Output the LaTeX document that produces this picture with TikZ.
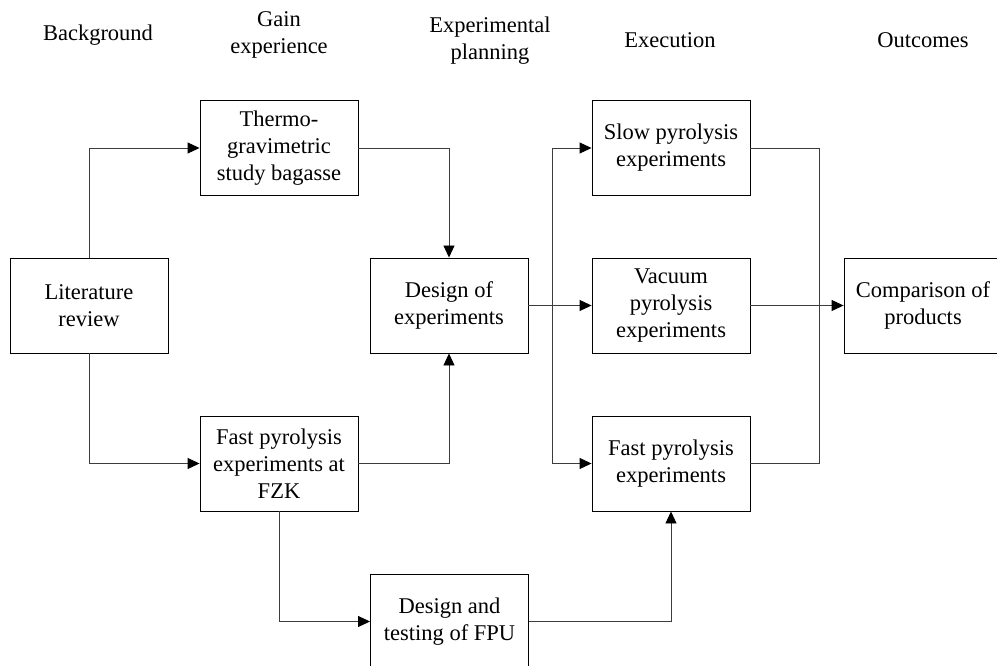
\documentclass[tikz,border=0pt]{standalone}
\usepackage{fontspec}
\setmainfont{Liberation Serif}
\usetikzlibrary{arrows.meta}

\tikzset{
  stage/.style={draw, line width=0.9pt, minimum width=158pt, minimum height=95pt,
    inner sep=2pt, align=center, font=\fontsize{22.5}{27}\selectfont},
  heading/.style={align=center, font=\fontsize{22.5}{27}\selectfont},
  link/.style={draw={rgb,255:red,60;green,60;blue,60}, line width=0.9pt},
  flow/.style={link, -{Triangle[length=12pt,width=11pt,color=black]}}
}

\begin{document}
\begin{tikzpicture}[x=1pt,y=1pt,yscale=-1,xscale=1]
\useasboundingbox (0,0) rectangle (997,666);

% Text Node
\node[heading] (hbg) at (98,35) {Background};
% Text Node
\node[heading] (hgain) at (279,35) {Gain\\experience};
% Text Node
\node[heading] (hplan) at (490,41) {Experimental\\planning};
% Text Node
\node[heading] (hexec) at (670,40) {Execution};
% Text Node
\node[heading] (hout) at (923,40) {Outcomes};

%Shape: Rectangle
\node[stage] (lit) at (89,305.5) {Literature\\review};
\node[stage] (tga) at (279,148) {Thermo-\\gravimetric\\study bagasse};
\node[stage] (fzk) at (279,463.5) {Fast pyrolysis\\experiments at\\FZK};
\node[stage] (doe) at (449,305.5) {Design of\\experiments};
\node[stage] (fpu) at (449.5,621.5) {Design and\\testing of FPU};
\node[stage] (slow) at (671,148) {Slow pyrolysis\\experiments};
\node[stage] (vac) at (671,305.5) {Vacuum\\pyrolysis\\experiments};
\node[stage] (fast) at (671,463.5) {Fast pyrolysis\\experiments};
\node[stage] (comp) at (923,305.5) {Comparison of\\products};

%Straight Lines
\coordinate (split) at (552,305.5);
\coordinate (join) at (819,305.5);

\draw[flow] (lit.north) |- (tga.west);
\draw[flow] (lit.south) |- (fzk.west);
\draw[flow] (tga.east) -| (doe.north);
\draw[flow] (fzk.east) -| (doe.south);
\draw[flow] (fzk.south) |- (fpu.west);
\draw[flow] (fpu.east) -| (fast.south);

\draw[flow] (doe.east) -- (vac.west);
\draw[flow] (split) |- (slow.west);
\draw[flow] (split) |- (fast.west);

\draw[link] (slow.east) -| (join);
\draw[link] (fast.east) -| (join);
\draw[flow] (vac.east) -- (comp.west);

\end{tikzpicture}
\end{document}
